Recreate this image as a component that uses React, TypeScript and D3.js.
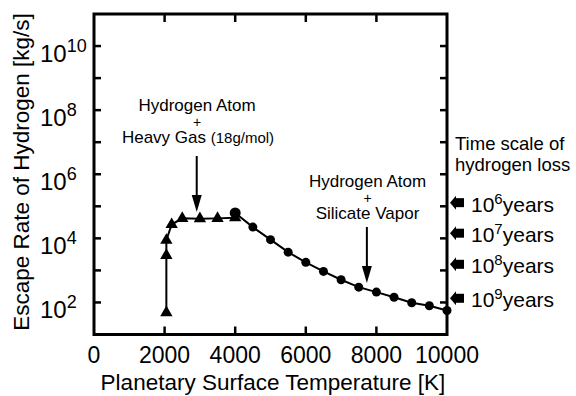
import React from 'react';
import * as d3 from 'd3';

const W = 576;
const H = 396;

// Hydrogen atom + heavy gas (triangles)
const gasTemps = [2050, 2050, 2050, 2200, 2500, 3000, 3500, 4000];
const gasRates = [48, 2950, 8700, 27000, 42000, 41000, 42000, 44000];

// Hydrogen atom + silicate vapor (circles)
const vaporTemps = [4000, 4500, 5000, 5500, 6000, 6500, 7000, 7500, 8000, 8500, 9000, 9500, 10000];
const vaporRates = [62000, 22400, 9100, 3700, 1780, 930, 510, 300, 210, 145, 98, 79, 56];

// axis ticks
const xTicks = [0, 2000, 4000, 6000, 8000, 10000];
const yLabelExps = [2, 4, 6, 8, 10];
const yTickExps = [2, 3, 4, 5, 6, 7, 8, 9, 10];

// time scale of hydrogen loss markers
const lossYears = [6, 7, 8, 9];
const lossRates = [1.3e5, 1.45e4, 1.55e3, 1.35e2];

const FONT = 'Liberation Sans, Arial, sans-serif';

export default function App() {
  const x = d3.scaleLinear([0, 10000], [94, 447]);
  const y = d3.scaleLog([10, 1e11], [334.5, 14]);
  const [x0, x1] = x.range();
  const [y0, y1] = y.range();

  const gasData = gasTemps.map((t, i) => ({t, r: gasRates[i]}));
  const vaporData = vaporTemps.map((t, i) => ({t, r: vaporRates[i]}));

  const line = d3.line<{t: number; r: number}>()
    .x(d => x(d.t))
    .y(d => y(d.r));

  const tri = d3.symbol(d3.symbolTriangle, 66)()!;

  // downward annotation arrow
  const downArrow = (cx: number, top: number, tip: number) => (
    <g>
      <line x1={cx} x2={cx} y1={top} y2={tip - 14} stroke="#000" strokeWidth={2} />
      <path d={`M${cx - 5},${tip - 17}L${cx + 5},${tip - 17}L${cx},${tip}Z`} fill="#000" />
    </g>
  );

  return (
    <svg width={W} height={H} style={{position: 'absolute', left: 0, top: 0, background: '#fff'}}
         fontFamily={FONT}>
      <rect x={0} y={0} width={W} height={H} fill="#fff" />

      {/* ticks */}
      {xTicks.slice(1, -1).map(t => (
        <g key={'xt' + t} stroke="#000" strokeWidth={2.5}>
          <line x1={x(t)} x2={x(t)} y1={y0} y2={y0 - 8} />
          <line x1={x(t)} x2={x(t)} y1={y1} y2={y1 + 8} />
        </g>
      ))}
      {yTickExps.map(e => (
        <g key={'yt' + e} stroke="#000" strokeWidth={2.5}>
          <line x1={x0} x2={x0 + 7} y1={y(10 ** e)} y2={y(10 ** e)} />
          <line x1={x1} x2={x1 - 7} y1={y(10 ** e)} y2={y(10 ** e)} />
        </g>
      ))}

      {/* frame */}
      <rect x={x0} y={y1} width={x1 - x0} height={y0 - y1} fill="none" stroke="#000" strokeWidth={3} />

      {/* x tick labels */}
      {xTicks.map(t => (
        <text key={'xl' + t} x={x(t)} y={363} fontSize={23} textAnchor="middle">{t}</text>
      ))}
      {/* y tick labels */}
      {yLabelExps.map(e => (
        <text key={'yl' + e} x={40} y={y(10 ** e) + 16} fontSize={24}>
          10<tspan dy={-10} fontSize={18}>{e}</tspan>
        </text>
      ))}

      {/* axis titles */}
      <text x={273} y={390} fontSize={22.5} textAnchor="middle">Planetary Surface Temperature [K]</text>
      <text transform={`translate(29,172) rotate(-90)`} fontSize={22.5} textAnchor="middle">
        Escape Rate of Hydrogen [kg/s]
      </text>

      {/* series lines */}
      <path d={line(gasData)!} fill="none" stroke="#000" strokeWidth={2} />
      <path d={line(vaporData)!} fill="none" stroke="#000" strokeWidth={2} />

      {gasData.map((d, i) => (
        <path key={'g' + i} d={tri} transform={`translate(${x(d.t)},${y(d.r)})`} fill="#000" />
      ))}
      {vaporData.map((d, i) => (
        <circle key={'v' + i} cx={x(d.t)} cy={y(d.r)} r={i === 0 ? 5.5 : 4.5} fill="#000" />
      ))}

      {/* annotation: heavy gas */}
      <g fontSize={17} textAnchor="middle">
        <text x={197} y={111}>Hydrogen Atom</text>
        <text x={197} y={126.5} fontSize={14}>+</text>
        <text x={198} y={143}>Heavy Gas <tspan fontSize={15}>(18g/mol)</tspan></text>
      </g>
      {downArrow(x(2910), 156, 212)}

      {/* annotation: silicate vapor */}
      <g fontSize={17} textAnchor="middle">
        <text x={367.5} y={187}>Hydrogen Atom</text>
        <text x={367.5} y={202.5} fontSize={14}>+</text>
        <text x={367.5} y={219}>Silicate Vapor</text>
      </g>
      {downArrow(x(7730), 227, 283)}

      {/* time scale of hydrogen loss */}
      <g fontSize={18.5}>
        <text x={455} y={150}>Time scale of</text>
        <text x={455} y={171}>hydrogen loss</text>
      </g>
      {lossYears.map((yr, i) => {
        const cy = y(lossRates[i]);
        const tip = x1 + 3;
        return (
          <g key={'ls' + yr}>
            <path d={`M${tip},${cy}L${tip + 6},${cy - 7}L${tip + 6},${cy + 7}Z`} fill="#000" />
            <rect x={tip + 5} y={cy - 4.5} width={9} height={9} fill="#000" />
            <text x={471} y={cy + 9} fontSize={21}>
              10<tspan dy={-8} fontSize={15}>{yr}</tspan><tspan dy={8}>years</tspan>
            </text>
          </g>
        );
      })}
    </svg>
  );
}
